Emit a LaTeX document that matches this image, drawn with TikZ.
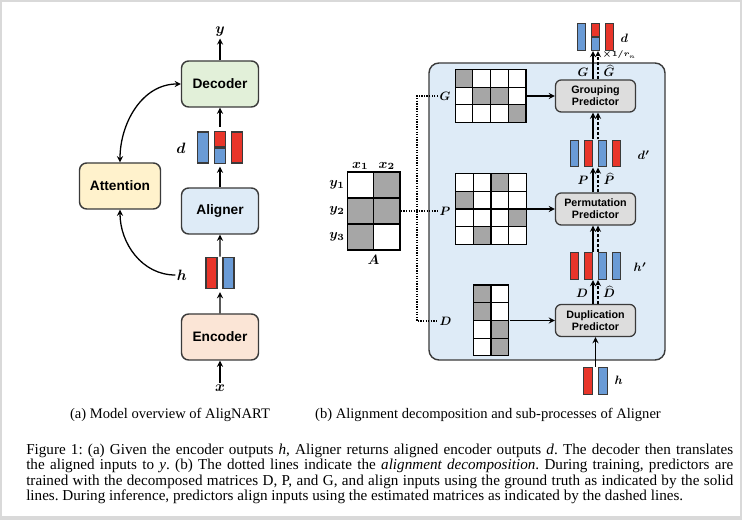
\RequirePackage{fix-cm}
\documentclass[tikz,border=0pt]{standalone}
\usepackage{amsmath}
\usepackage{bm}
\usepackage{fontspec}
\setmainfont{Liberation Serif}
\newfontfamily\boxfont{Liberation Sans}
\usepackage{xcolor}
\usepackage{tikz}
\usetikzlibrary{shapes,arrows,positioning,matrix,fit}

\definecolor{decgreen}{HTML}{E2F0D9}
\definecolor{alignblue}{HTML}{DEEBF7}
\definecolor{encpeach}{HTML}{FBE5D6}
\definecolor{attyellow}{HTML}{FFF2CC}
\definecolor{predgray}{HTML}{DDDDDD}
\definecolor{barblue}{HTML}{6A9BD6}
\definecolor{barred}{HTML}{E8352A}
\definecolor{cellgray}{HTML}{A6A6A6}
\definecolor{framegray}{HTML}{D9D9D9}
\definecolor{edgegray}{HTML}{3A3A3A}

\begin{document}
\begin{tikzpicture}[
    x=0.7pt, y=0.7pt,
    block/.style={rectangle, draw=edgegray, line width=1pt, rounded corners=5pt, minimum width=53.9pt, minimum height=32.2pt, font=\boxfont\bfseries\fontsize{9.6}{11}\selectfont},
    panel/.style={rectangle, draw=edgegray, fill=alignblue, line width=1pt, rounded corners=7pt, minimum width=165.2pt, minimum height=207.9pt},
    predictor/.style={rectangle, draw=edgegray, fill=predgray, line width=0.9pt, rounded corners=4pt, minimum width=56pt, minimum height=22.4pt, text width=54pt, align=center, inner sep=1pt, font=\boxfont\bfseries\fontsize{7.5}{8.6}\selectfont},
    vecbar/.style={rectangle, draw=edgegray, line width=0.8pt, minimum width=7.7pt, minimum height=21.7pt, inner sep=0pt},
    smallbar/.style={vecbar, minimum width=6pt, minimum height=18.5pt},
    bitcell/.style={rectangle, draw=black, line width=0.8pt, fill=white, minimum width=12.4pt, minimum height=12.4pt, inner sep=0pt},
    graycell/.style={bitcell, fill=cellgray},
    acell/.style={bitcell, minimum width=18.5pt, minimum height=18.2pt},
    agraycell/.style={acell, fill=cellgray},
    mat/.style={matrix of nodes, nodes in empty cells, nodes={bitcell}, column sep=-0.8pt, row sep=-0.8pt, inner sep=0pt},
    sym/.style={inner sep=1pt, font=\fontsize{10.5}{12}\selectfont},
    asym/.style={inner sep=1pt, font=\fontsize{9.5}{11}\selectfont},
    rsym/.style={inner sep=1pt, font=\fontsize{8.5}{10}\selectfont},
    caption/.style={inner sep=0pt, font=\fontsize{10.2}{10.5}\selectfont},
    arrow/.style={->, >=stealth, line width=0.9pt, draw=black},
    dasharrow/.style={arrow, dash pattern=on 2pt off 1.4pt},
    decomp/.style={line width=0.9pt, dash pattern=on 0.9pt off 0.9pt}
]
\useasboundingbox (0,0) rectangle (742,520);
\fill[framegray] (0,0) rectangle (742,520);
\fill[white] (2,4) rectangle (740,518);

% (a) Model overview
\node [block, fill=encpeach] (encoder) at (220,183) {Encoder};
\node [block, fill=alignblue] (aligner) at (220,309) {Aligner};
\node [block, fill=decgreen] (decoder) at (220,436) {Decoder};
\node [block, fill=attyellow, minimum width=56.7pt] (attention) at (120,334) {Attention};

\node [sym] (xin) at (220,132) {$\bm{x}$};
\node [sym] (yout) at (220,488) {$\bm{y}$};

% encoder outputs h
\node [vecbar, fill=barred] (h1) at (211.5,247) {};
\node [vecbar, fill=barblue] (h2) at (228.5,247) {};
\node [fit=(h1)(h2), inner sep=0pt] (hvec) {};
\node [sym] (hlab) at (182,245) {$\bm{h}$};

% aligned outputs d
\node [vecbar, fill=barblue] (d1) at (203,372.5) {};
\node [vecbar, fill=barred, minimum height=10.85pt, anchor=south] (d2a) at (220,372.5) {};
\node [vecbar, fill=barblue, minimum height=10.85pt, anchor=north] (d2b) at (220,372.5) {};
\node [vecbar, fill=barred] (d3) at (237,372.5) {};
\node [fit=(d1)(d3), inner sep=0pt] (dvec) {};
\node [sym] (dlab) at (181,372) {$\bm{d}$};

% Arrows - main flow
\draw [arrow] (xin) -- (encoder);
\draw [arrow, shorten >=2pt] (encoder) -- (hvec);
\draw [arrow] (hvec) -- (aligner);
\draw [arrow, shorten >=2pt] (aligner) -- (dvec);
\draw [arrow, shorten <=3pt] (dvec) -- (decoder);
\draw [arrow] (decoder) -- (yout);

% Arrows - attention
\draw [arrow, <->] (attention.north) to[out=90, in=180] (decoder.west);
\draw [arrow] (hlab.west) to[out=180, in=-90] (attention.south);

% (b) Aligner
\node [panel] (alignbox) at (547,308.5) {};
\node [predictor] (grouping) at (595.5,424) {Grouping\\Predictor};
\node [predictor] (permutation) at (595.5,311) {Permutation\\Predictor};
\node [predictor] (duplication) at (595.5,199.5) {Duplication\\Predictor};

% Decomposed matrices
\matrix (gmat) [mat] at (490.5,424) {
    |[graycell]| & & & \\
    & |[graycell]| & |[graycell]| & \\
    & & & |[graycell]| \\
};
\matrix (pmat) [mat] at (491,311) {
    & & |[graycell]| & \\
    |[graycell]| & & & \\
    & & & |[graycell]| \\
    & |[graycell]| & & \\
};
\matrix (dmat) [mat] at (491,199.5) {
    |[graycell]| & \\
    |[graycell]| & \\
    & |[graycell]| \\
    & |[graycell]| \\
};

% Alignment matrix A
\matrix (amat) [mat, nodes={acell}] at (373.5,309) {
    & |[agraycell]| \\
    |[agraycell]| & |[agraycell]| \\
    |[agraycell]| & \\
};
\node [asym, above=0pt of amat-1-1] (ax1) {$\bm{x_1}$};
\node [asym, above=0pt of amat-1-2] (ax2) {$\bm{x_2}$};
\node [asym, left=0pt of amat-1-1] (ay1) {$\bm{y_1}$};
\node [asym, left=0pt of amat-2-1] (ay2) {$\bm{y_2}$};
\node [asym, left=0pt of amat-3-1] (ay3) {$\bm{y_3}$};
\node [asym, below=2pt of amat] (alab) {$\bm{A}$};

% Decomposition (dotted)
\node [rsym, anchor=west] (glab) at (438,424) {$\bm{G}$};
\node [rsym, anchor=west] (plab) at (438,309) {$\bm{P}$};
\node [rsym, anchor=west] (dlabel) at (438,199) {$\bm{D}$};
\coordinate (branch) at (417,309);
\draw [decomp] (amat.east) -- (plab.west);
\draw [decomp] (glab.west) -| (branch) |- (dlabel.west);

% Arrows - matrices to predictors
\draw [arrow] (gmat.east) -- (grouping.west);
\draw [arrow] (pmat.east) -- (permutation.west);
\draw [arrow] (dmat.east) -- (duplication.west);

% Vectors inside the Aligner
\node [smallbar, fill=barred] (hin1) at (588,139) {};
\node [smallbar, fill=barblue] (hin2) at (603,139) {};
\node [fit=(hin1)(hin2), inner sep=0pt] (hin) {};
\node [rsym, anchor=west] (hinlab) at (613,140) {$\bm{h}$};

\node [smallbar, fill=barred] (hp1) at (574.5,254) {};
\node [smallbar, fill=barred] (hp2) at (588.5,254) {};
\node [smallbar, fill=barblue] (hp3) at (602.5,254) {};
\node [smallbar, fill=barblue] (hp4) at (616.5,254) {};
\node [fit=(hp1)(hp4), inner sep=0pt] (hprime) {};
\node [rsym, anchor=west] (hplab) at (632,253) {$\bm{h'}$};

\node [smallbar, fill=barblue] (dp1) at (574.5,366.5) {};
\node [smallbar, fill=barred] (dp2) at (588.5,366.5) {};
\node [smallbar, fill=barblue] (dp3) at (602.5,366.5) {};
\node [smallbar, fill=barred] (dp4) at (616.5,366.5) {};
\node [fit=(dp1)(dp4), inner sep=0pt] (dprime) {};
\node [rsym, anchor=west] (dplab) at (636,365) {$\bm{d'}$};

\node [smallbar, fill=barblue] (do1) at (581.5,483) {};
\node [smallbar, fill=barred, minimum height=9.25pt, anchor=south] (do2a) at (595.5,483) {};
\node [smallbar, fill=barblue, minimum height=9.25pt, anchor=north] (do2b) at (595.5,483) {};
\node [smallbar, fill=barred] (do3) at (609.5,483) {};
\node [fit=(do1)(do3), inner sep=0pt] (dout) {};
\node [rsym, anchor=west] (doutlab) at (619,482) {$\bm{d}$};
\node [inner sep=0pt, font=\fontsize{5.5}{6}\selectfont] (scale) at (619,465) {$\bm{\times 1/r_n}$};

% Ground truth (solid) and estimated (dashed) paths
\draw [arrow] (hin) -- (duplication);
\draw [arrow] ([xshift=-1.75pt]duplication.north) -- ([xshift=-1.75pt]hprime.south);
\draw [dasharrow] ([xshift=1.75pt]duplication.north) -- ([xshift=1.75pt]hprime.south);
\draw [arrow] ([xshift=-1.75pt]hprime.north) -- ([xshift=-1.75pt]permutation.south);
\draw [dasharrow] ([xshift=1.75pt]hprime.north) -- ([xshift=1.75pt]permutation.south);
\draw [arrow] ([xshift=-1.75pt]permutation.north) -- ([xshift=-1.75pt]dprime.south);
\draw [dasharrow] ([xshift=1.75pt]permutation.north) -- ([xshift=1.75pt]dprime.south);
\draw [arrow] ([xshift=-1.75pt]dprime.north) -- ([xshift=-1.75pt]grouping.south);
\draw [dasharrow] ([xshift=1.75pt]dprime.north) -- ([xshift=1.75pt]grouping.south);
\draw [arrow] ([xshift=-1.75pt]grouping.north) -- ([xshift=-1.75pt]dout.south);
\draw [dasharrow] ([xshift=1.75pt]grouping.north) -- ([xshift=1.75pt]dout.south);

% Labels for the matrices used
\node [rsym, anchor=base] (dtrue) at (582,222) {$\bm{D}$};
\node [rsym, anchor=base] (dest) at (609,222) {$\bm{\widehat{D}}$};
\node [rsym, anchor=base] (ptrue) at (583,335) {$\bm{P}$};
\node [rsym, anchor=base] (pest) at (609,335) {$\bm{\widehat{P}}$};
\node [rsym, anchor=base] (gtrue) at (583,443) {$\bm{G}$};
\node [rsym, anchor=base] (gest) at (609,443) {$\bm{\widehat{G}}$};

% Captions
\node [caption] (capa) at (170,105) {(a) Model overview of AligNART};
\node [caption] (capb) at (488,105) {(b) Alignment decomposition and sub-processes of Aligner};
\node [caption, font=\fontsize{10.6}{10.6}\selectfont\frenchspacing, anchor=north west, text width=494.9pt, align=justify] (figcap) at (26,76) {Figure 1: (a) Given the encoder outputs \textit{h}, Aligner returns aligned encoder outputs \textit{d}. The decoder then translates\linebreak the aligned inputs to \textit{y}. (b) The dotted lines indicate the \textit{alignment decomposition}. During training, predictors are\linebreak trained with the decomposed matrices D, P, and G, and align inputs using the ground truth as indicated by the solid\linebreak lines. During inference, predictors align inputs using the estimated matrices as indicated by the dashed lines.};

\end{tikzpicture}
\end{document}
